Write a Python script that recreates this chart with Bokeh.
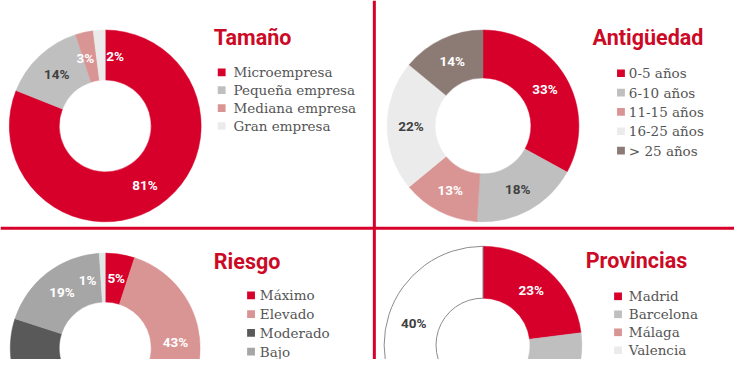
import numpy as np
from bokeh.plotting import figure
from bokeh.models import Range1d, Span, ColumnDataSource
from bokeh.core.properties import value
from bokeh.embed import file_html
from bokeh.resources import INLINE

# ---------------- data ----------------
tam_title = "Tamaño"
tam_cats = ["Microempresa", "Pequeña empresa", "Mediana empresa", "Gran empresa"]
tam_vals = [81, 14, 3, 2]

ant_title = "Antigüedad"
ant_cats = ["0-5 años", "6-10 años", "11-15 años", "16-25 años", "> 25 años"]
ant_vals = [33, 18, 13, 22, 14]

rie_title = "Riesgo"
rie_cats = ["Máximo", "Elevado", "Moderado", "Bajo", "Mínimo"]
rie_vals = [5, 43, 32, 19, 1]

pro_title = "Provincias"
pro_cats = ["Madrid", "Barcelona", "Málaga", "Valencia", "Resto"]
pro_vals = [23, 13, 13, 11, 40]

# ---------------- styles ----------------
RED = "#D7002B"
TITLE_RED = "#CC0A26"
GRAY = "#BFBFBF"
PINK = "#D99594"
LIGHT = "#EBEBEB"
BROWN = "#8C7B75"
DARK = "#595959"
MID = "#A6A6A6"
TXT_DARK = "#404040"
LEG_TXT = "#555555"

REF_W, REF_H = 750, 375  # layout coordinates (reference pixels, y downwards)
W, H = 734, 359          # figure size that fits the window


def Y(ys):
    return REF_H - np.asarray(ys, dtype=float)


panels = [
    dict(title=tam_title, cats=tam_cats, vals=tam_vals,
         colors=[RED, GRAY, PINK, LIGHT],
         lines=[None, None, None, None],
         label_colors=["white", TXT_DARK, "white", "white"],
         nudge=[0, 0, -0.01, 0.032],
         cx=107, cy=131, R=98, r=47,
         tx=218, ty=39, sqx=226, legx=238, leg0=75, step=18.7, nleg=4),
    dict(title=ant_title, cats=ant_cats, vals=ant_vals,
         colors=[RED, GRAY, PINK, LIGHT, BROWN],
         lines=[None] * 5,
         label_colors=["white", TXT_DARK, "white", TXT_DARK, "white"],
         nudge=[0] * 5,
         cx=493, cy=131, R=98, r=49,
         tx=605, ty=39, sqx=634, legx=642, leg0=76, step=20.2, nleg=5),
    dict(title=rie_title, cats=rie_cats, vals=rie_vals,
         colors=[RED, PINK, DARK, MID, "#E1E6E6"],
         lines=[None] * 5,
         label_colors=["white", "white", "white", "white", "white"],
         nudge=[0, -0.028, 0, 0, -0.035],
         cx=107, cy=363, R=97, r=47,
         tx=218, ty=273, sqx=256, legx=265, leg0=308, step=19.6, nleg=4),
    dict(title=pro_title, cats=pro_cats, vals=pro_vals,
         colors=[RED, GRAY, PINK, LIGHT, "white"],
         lines=[None, None, None, None, "#8C8C8C"],
         label_colors=["white", TXT_DARK, "white", TXT_DARK, TXT_DARK],
         nudge=[0] * 5,
         cx=493, cy=360, R=101, r=48,
         tx=598, ty=272, sqx=631, legx=642, leg0=309, step=18.8, nleg=4),
]

p = figure(width=W, height=H, x_range=Range1d(0, REF_W), y_range=Range1d(0, REF_H),
           toolbar_location=None, output_backend="svg",
           x_axis_type=None, y_axis_type=None, min_border=0)
p.outline_line_color = None
p.grid.visible = False
p.background_fill_color = "white"

for pn in panels:
    vals = np.array(pn["vals"], dtype=float)
    frac = vals / vals.sum()
    cum_end = np.cumsum(frac)
    cum_start = cum_end - frac
    start = np.pi / 2 - 2 * np.pi * cum_start
    end = np.pi / 2 - 2 * np.pi * cum_end
    n = len(vals)
    cyd = float(Y(pn["cy"]))

    src = ColumnDataSource(dict(
        x=[pn["cx"]] * n, y=[cyd] * n, start=start, end=end,
        color=pn["colors"],
        lc=[c if c is not None else pn["colors"][i] for i, c in enumerate(pn["lines"])],
        lw=[1.0 if c is not None else 0.5 for c in pn["lines"]],
    ))
    p.annular_wedge(x="x", y="y", inner_radius=pn["r"], outer_radius=pn["R"],
                    start_angle="start", end_angle="end", direction="clock",
                    fill_color="color", line_color="lc", line_width="lw", source=src)

    # percentage labels on the middle of the ring
    mid = (cum_start + cum_end) / 2 + np.array(pn["nudge"])
    ang = np.pi / 2 - 2 * np.pi * mid
    rl = (pn["R"] + pn["r"]) / 2
    ry = rl * (W / REF_W) / (H / REF_H)
    lx = pn["cx"] + rl * np.cos(ang)
    ly = cyd + ry * np.sin(ang)
    ly_screen = REF_H - ly
    keep = ly_screen < REF_H - 12
    lsrc = ColumnDataSource(dict(
        x=lx[keep], y=ly[keep],
        t=[f"{int(v)}%" for v, k in zip(vals, keep) if k],
        c=[c for c, k in zip(pn["label_colors"], keep) if k],
    ))
    p.text(x="x", y="y", text="t", text_color="c", source=lsrc,
           text_align="center", text_baseline="middle",
           text_font=value("Roboto"), text_font_style="bold",
           text_font_size="13.5px")

    # title
    p.text(x=[pn["tx"]], y=Y([pn["ty"]]), text=[pn["title"]],
           text_align="left", text_baseline="middle",
           text_font=value("Roboto"), text_font_style="bold",
           text_font_size="21.5px", text_color=TITLE_RED)

    # legend
    k = pn["nleg"]
    rows = Y(pn["leg0"] + pn["step"] * np.arange(k))
    p.rect(x=[pn["sqx"]] * k, y=rows, width=8, height=8,
           fill_color=pn["colors"][:k], line_color=None)
    p.text(x=[pn["legx"]] * k, y=rows, text=pn["cats"][:k],
           text_align="left", text_baseline="middle",
           text_font=value("DejaVu Serif"), text_font_size="13.5px",
           text_color=LEG_TXT)

# separator lines
p.add_layout(Span(location=382, dimension="height", line_color=RED, line_width=3))
p.add_layout(Span(location=float(Y(238)), dimension="width", line_color=RED, line_width=3))

open("out.html", "w").write(file_html(p, INLINE))
